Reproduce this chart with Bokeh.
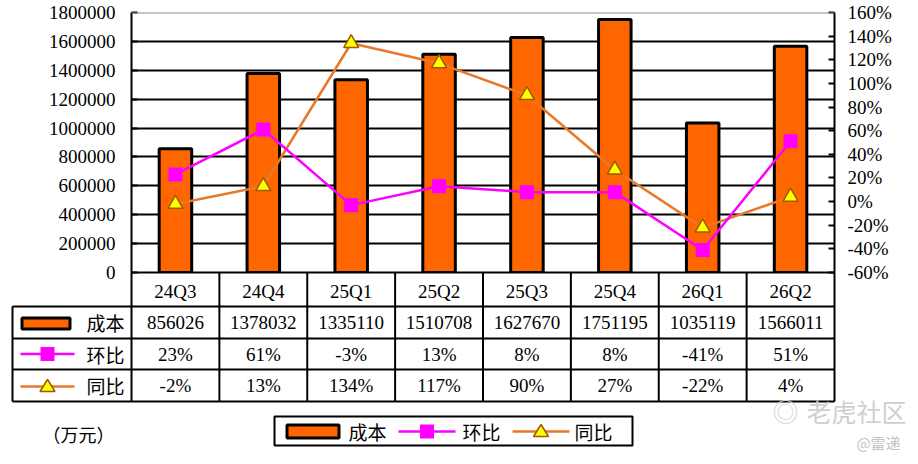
from bokeh.plotting import figure
from bokeh.models import (Range1d, FactorRange, LinearAxis, FixedTicker, PrintfTickFormatter, Span)
from bokeh.core.properties import value
from bokeh.embed import file_html
from bokeh.resources import INLINE

# ---------------- data ----------------
categories = ["24Q3", "24Q4", "25Q1", "25Q2", "25Q3", "25Q4", "26Q1", "26Q2"]
cost = [856026, 1378032, 1335110, 1510708, 1627670, 1751195, 1035119, 1566011]
qoq = [23, 61, -3, 13, 8, 8, -41, 51]        # 环比 (%)
yoy = [-2, 13, 134, 117, 90, 27, -22, 4]     # 同比 (%)
row_names = ["成本", "环比", "同比"]
left_ticks = [0, 200000, 400000, 600000, 800000, 1000000, 1200000, 1400000, 1600000, 1800000]
right_ticks = [-60, -40, -20, 0, 20, 40, 60, 80, 100, 120, 140, 160]
unit_text = "（万元）"
watermark = "老虎社区"
credit = "@雷递"

NUM_FONT = "Liberation Serif"
CJK_FONT = "Noto Sans CJK SC"
BAR_FILL = "#FF6600"
QOQ_COLOR = "#FF00FF"
YOY_COLOR = "#E8782A"
TRI_FILL = "#FFFF00"
TRI_LINE = "#9A5A00"

n = len(categories)
# layout geometry in page pixels
W, H = 918, 464
FRAME_L, FRAME_R, FRAME_T, FRAME_B = 131, 834, 12, 272
COLW = (FRAME_R - FRAME_L) / n


def X(px):
    return (px - FRAME_L) / COLW


p = figure(width=W, height=H,
           x_range=FactorRange(factors=categories, range_padding=0),
           y_range=Range1d(0, left_ticks[-1]),
           output_backend="svg", toolbar_location=None,
           min_border_left=FRAME_L, min_border_right=W - FRAME_R,
           min_border_top=FRAME_T, min_border_bottom=H - FRAME_B)
p.extra_y_ranges = {"pct": Range1d(right_ticks[0], right_ticks[-1]),
                    "ty": Range1d(FRAME_B, FRAME_T)}
p.outline_line_color = None
p.background_fill_color = "white"
p.border_fill_color = "white"

# grid
p.xgrid.visible = False
p.ygrid.ticker = FixedTicker(ticks=left_ticks[1:-1])
p.ygrid.grid_line_color = "black"
p.ygrid.grid_line_width = 2
p.add_layout(Span(location=left_ticks[-1], dimension="width", line_color="#8c8c8c", line_width=2))

# left axis
ax = p.yaxis[0]
ax.ticker = FixedTicker(ticks=left_ticks)
ax.formatter = PrintfTickFormatter(format="%d")
ax.major_label_text_font = NUM_FONT
ax.major_label_text_font_size = "19px"
ax.major_label_text_color = "black"
ax.axis_line_color = "black"
ax.axis_line_width = 2
ax.major_tick_in = 6
ax.major_tick_out = 0
ax.major_tick_line_width = 2
ax.minor_tick_line_color = None
ax.major_label_standoff = 16

# right axis
rax = LinearAxis(y_range_name="pct", ticker=FixedTicker(ticks=right_ticks),
                 formatter=PrintfTickFormatter(format="%d%%"))
rax.major_label_text_font = NUM_FONT
rax.major_label_text_font_size = "19px"
rax.major_label_text_color = "black"
rax.axis_line_color = "black"
rax.axis_line_width = 2
rax.major_tick_in = 6
rax.major_tick_out = 0
rax.major_tick_line_width = 2
rax.minor_tick_line_color = None
rax.major_label_standoff = 13
p.add_layout(rax, "right")

# bottom axis = table header
xax = p.xaxis[0]
xax.major_label_text_font = NUM_FONT
xax.major_label_text_font_size = "19px"
xax.major_label_text_color = "black"
xax.axis_line_color = "black"
xax.axis_line_width = 2
xax.major_tick_in = 0
xax.major_tick_out = 0
xax.major_label_standoff = 8

# ---------------- series ----------------
r_bar = p.vbar(x=categories, top=cost, width=0.37, fill_color=BAR_FILL,
               line_color="black", line_width=3)
r_yoy_line = p.line(categories, yoy, y_range_name="pct", line_color=YOY_COLOR, line_width=2.5)
r_qoq_line = p.line(categories, qoq, y_range_name="pct", line_color=QOQ_COLOR, line_width=2.5)
r_yoy_mk = p.scatter(categories, yoy, y_range_name="pct", marker="triangle", size=15,
                     fill_color=TRI_FILL, line_color=TRI_LINE, line_width=1.5)
r_qoq_mk = p.scatter(categories, qoq, y_range_name="pct", marker="square", size=14,
                     fill_color=QOQ_COLOR, line_color=None)


# ---------------- helpers for keys drawn below the frame ----------------
def bar_key(cx, cy, w, h):
    p.quad(left=[X(cx - w / 2)], right=[X(cx + w / 2)], top=[cy - h / 2], bottom=[cy + h / 2],
           y_range_name="ty", fill_color=BAR_FILL, line_color="black", line_width=3, level="overlay")


def line_key(x0, x1, cy, color, marker):
    p.segment([X(x0)], [cy], [X(x1)], [cy], y_range_name="ty",
              line_color=color, line_width=2.5, level="overlay")
    cx = (x0 + x1) / 2
    if marker == "square":
        s = 7
        p.quad(left=[X(cx - s)], right=[X(cx + s)], top=[cy - s], bottom=[cy + s],
               y_range_name="ty", fill_color=QOQ_COLOR, line_color=None, level="overlay")
    else:
        p.patch([X(cx), X(cx - 7.5), X(cx + 7.5)], [cy - 7, cy + 5, cy + 5], y_range_name="ty",
                fill_color=TRI_FILL, line_color=TRI_LINE, line_width=1.5, level="overlay")


# ---------------- data table ----------------
ROW_Y = [272, 306, 338, 369, 401]
XL = X(12)
x0s, y0s, x1s, y1s = [], [], [], []
for yy in ROW_Y[1:]:
    x0s.append(XL); x1s.append(n); y0s.append(yy); y1s.append(yy)
for i in range(n + 1):
    x0s.append(i); x1s.append(i); y0s.append(ROW_Y[0]); y1s.append(ROW_Y[-1])
x0s.append(XL); x1s.append(XL); y0s.append(ROW_Y[1]); y1s.append(ROW_Y[-1])
p.segment(x0s, y0s, x1s, y1s, y_range_name="ty", line_color="black", line_width=2, level="overlay")

row_cy = [(ROW_Y[k] + ROW_Y[k + 1]) / 2 for k in range(1, 4)]
row_texts = [[str(v) for v in cost], [f"{v}%" for v in qoq], [f"{v}%" for v in yoy]]
for k in range(3):
    p.text(x=categories, y=[row_cy[k]] * n, text=row_texts[k], y_range_name="ty",
           text_font=value(NUM_FONT), text_font_size="19px", text_color="black",
           text_align="center", text_baseline="middle", level="overlay")
p.text(x=[X(124)] * 3, y=row_cy, text=row_names, y_range_name="ty",
       text_font=value(CJK_FONT), text_font_size="19px", text_color="black",
       text_align="right", text_baseline="middle", level="overlay")

bar_key(45.5, row_cy[0] + 1, 48, 11)
line_key(20, 74, row_cy[1], QOQ_COLOR, "square")
line_key(20, 74, row_cy[2] + 1, YOY_COLOR, "triangle")

# ---------------- legend box ----------------
LEG_CY = 431
p.quad(left=[X(274)], right=[X(632)], top=[416], bottom=[445], y_range_name="ty",
       fill_color="white", line_color="black", line_width=2, level="overlay")
bar_key(312.5, LEG_CY, 52, 13)
line_key(398, 455, LEG_CY, QOQ_COLOR, "square")
line_key(512, 569, LEG_CY, YOY_COLOR, "triangle")
p.text(x=[X(348), X(462), X(574)], y=[LEG_CY] * 3, text=row_names, y_range_name="ty",
       text_font=value(CJK_FONT), text_font_size="19px", text_color="black",
       text_align="left", text_baseline="middle", level="overlay")

# ---------------- unit note and watermark ----------------
p.text(x=[X(78)], y=[433], text=[unit_text], y_range_name="ty",
       text_font=value(CJK_FONT), text_font_size="18px", text_color="black",
       text_align="center", text_baseline="middle", level="overlay")
p.text(x=[X(785)], y=[410], text=["◎"], y_range_name="ty",
       text_font=value(CJK_FONT), text_font_size="26px", text_color="#d6d6d6",
       text_align="center", text_baseline="middle", level="overlay")
p.text(x=[X(856)], y=[410], text=[watermark], y_range_name="ty",
       text_font=value(CJK_FONT), text_font_size="25px", text_color="#cfcfcf",
       text_align="center", text_baseline="middle", level="overlay")
p.text(x=[X(878)], y=[442], text=[credit], y_range_name="ty",
       text_font=value(CJK_FONT), text_font_size="15px", text_color="#c4c4c4",
       text_align="center", text_baseline="middle", level="overlay")

open("out.html", "w").write(file_html(p, INLINE))
